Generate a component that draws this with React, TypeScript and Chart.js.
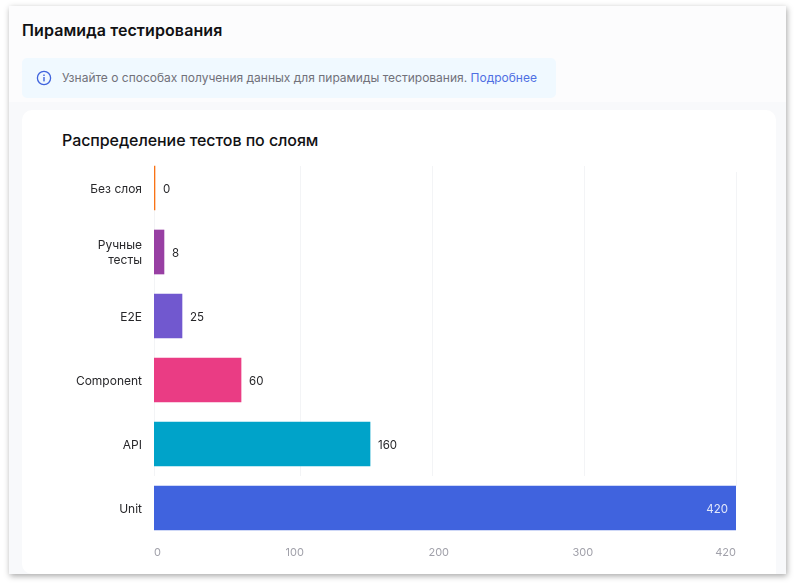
import React, { useEffect, useRef } from "react";
import { Chart, registerables } from "chart.js";

Chart.register(...registerables);

const FONT = "Inter, 'Noto Sans', sans-serif";

const categories: (string | string[])[] = ["Без слоя", ["Ручные", "тесты"], "E2E", "Component", "API", "Unit"];
// Labels printed beside the bars
const valueLabels = ["0", "8", "25", "60", "160", "420"];
// Bar lengths as drawn in the picture, read on the axis (the picture's bars are not strictly proportional to their labels)
const barLengths = [0, 7.2, 20.2, 62.8, 155.9, 420];
const barColors = ["#f97316", "#983fa3", "#7158cf", "#ea3c84", "#00a3c9", "#4063de"];
const xTickLabels = ["0", "100", "200", "300", "420"];
const xTickPositions = [0, 101.6, 205.5, 309.5, 420];
const gridPositions = [0, 105.4, 200.6, 310.3, 420];

const gridPlugin = {
  id: "shortGrid",
  beforeDatasetsDraw(chart: any) {
    const { ctx, scales } = chart;
    ctx.save();
    ctx.strokeStyle = "#f3f4f6";
    ctx.lineWidth = 1;
    gridPositions.forEach((v, i) => {
      const lastLine = i === gridPositions.length - 1;
      const x = Math.round(scales.x.getPixelForValue(v)) + 0.5;
      const top = scales.y.getPixelForValue(0) - 22 + (lastLine ? 6 : 0);
      const bottom = scales.y.getPixelForValue(5) - (lastLine ? 22 : 32);
      ctx.beginPath();
      ctx.moveTo(x, top);
      ctx.lineTo(x, bottom);
      ctx.stroke();
    });
    ctx.restore();
  },
};

const valueLabelPlugin = {
  id: "valueLabels",
  afterDatasetsDraw(chart: any) {
    const { ctx } = chart;
    const bars = chart.getDatasetMeta(0).data;
    ctx.save();
    ctx.font = `400 11.5px ${FONT}`;
    ctx.textBaseline = "middle";
    bars.forEach((bar: any, i: number) => {
      const last = i === bars.length - 1;
      ctx.fillStyle = last ? "rgba(255,255,255,0.85)" : "#27272a";
      ctx.textAlign = last ? "right" : "left";
      ctx.fillText(valueLabels[i], last ? bar.x - 8 : bar.x + 8, bar.y + 2);
    });
    ctx.restore();
  },
};

export default function App() {
  const ref = useRef<HTMLCanvasElement>(null);

  useEffect(() => {
    const chart = new Chart(ref.current!, {
      type: "bar",
      data: {
        labels: categories as any,
        datasets: [
          {
            data: barLengths,
            backgroundColor: barColors,
            barThickness: 44,
            minBarLength: 1,
            borderWidth: 0,
          },
        ],
      },
      options: {
        indexAxis: "y",
        animation: false,
        responsive: false,
        layout: { padding: { top: 6, right: 40, left: 0, bottom: 0 } },
        plugins: { legend: { display: false }, tooltip: { enabled: false } },
        scales: {
          x: {
            type: "linear",
            min: 0,
            max: 420,
            grid: { display: false, drawTicks: false },
            border: { display: false },
            afterBuildTicks(axis: any) {
              axis.ticks = xTickPositions.map((value) => ({ value }));
            },
            afterFit(axis: any) {
              axis.height = 34;
              axis.paddingLeft = 0;
              axis.paddingRight = 0;
            },
            ticks: {
              autoSkip: false,
              maxRotation: 0,
              align: "inner",
              padding: 6,
              color: "#a1a1aa",
              font: { family: FONT, size: 11 },
              callback: (_v: any, i: number) => xTickLabels[i],
            },
          },
          y: {
            type: "category",
            grid: { display: false, drawTicks: false },
            border: { display: false },
            afterFit(axis: any) {
              axis.width = 132;
              axis.paddingTop = 0;
              axis.paddingBottom = 0;
            },
            ticks: {
              autoSkip: false,
              padding: 12,
              labelOffset: 1,
              color: "#27272a",
              font: { family: FONT, size: 12, lineHeight: 1.25 },
            },
          },
        },
      },
      plugins: [gridPlugin, valueLabelPlugin],
    } as any);
    return () => chart.destroy();
  }, []);

  return (
    <div style={{ position: "fixed", inset: 0, background: "#fff", fontFamily: FONT, overflow: "hidden" }}>
      <div
        style={{
          position: "absolute",
          left: 9,
          top: 6,
          width: 777,
          height: 568,
          background: "#f8f9fb",
          boxShadow: "1px 2px 6px rgba(0,0,0,0.35)",
        }}
      >
        <div style={{ position: "absolute", left: 0, top: 0, width: 777, height: 96, background: "#fcfcfd" }} />
      </div>
      <div
        style={{
          position: "absolute",
          left: 22,
          top: 20,
          fontSize: 16,
          letterSpacing: 0.1,
          lineHeight: "20px",
          fontWeight: 600,
          color: "#111113",
          whiteSpace: "nowrap",
        }}
      >
        Пирамида тестирования
      </div>
      <div
        style={{
          position: "absolute",
          left: 22,
          top: 58,
          width: 534,
          height: 40,
          borderRadius: 5,
          background: "#f0f9ff",
        }}
      >
        <svg
          width="16"
          height="16"
          viewBox="0 0 16 16"
          style={{ position: "absolute", left: 14, top: 12 }}
        >
          <circle cx="8" cy="8" r="6.6" fill="none" stroke="#3f63dd" strokeWidth="1.3" />
          <rect x="7.3" y="7" width="1.4" height="4.4" fill="#3f63dd" />
          <rect x="7.3" y="4.5" width="1.4" height="1.5" fill="#3f63dd" />
        </svg>
        <div
          style={{
            position: "absolute",
            left: 40,
            top: 0,
            lineHeight: "40px",
            fontSize: 12,
            color: "#71717a",
            whiteSpace: "nowrap",
          }}
        >
          Узнайте о способах получения данных для пирамиды тестирования.{" "}
          <span style={{ color: "#4f6fe3" }}>Подробнее</span>
        </div>
      </div>
      <div
        style={{
          position: "absolute",
          left: 22,
          top: 110,
          width: 754,
          height: 464,
          background: "#fff",
          borderRadius: "10px 10px 0 10px",
        }}
      />
      <div
        style={{
          position: "absolute",
          left: 62,
          top: 130,
          fontSize: 16,
          letterSpacing: -0.07,
          lineHeight: "20px",
          fontWeight: 500,
          color: "#111113",
          whiteSpace: "nowrap",
        }}
      >
        Распределение тестов по слоям
      </div>
      <canvas ref={ref} width={754} height={424} style={{ position: "absolute", left: 22, top: 150 }} />
    </div>
  );
}
